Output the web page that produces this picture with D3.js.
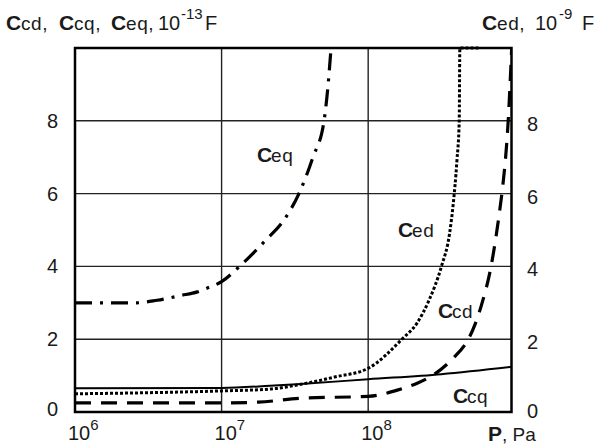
<!DOCTYPE html>
<html>
<head>
<meta charset="utf-8">
<script src="https://cdn.jsdelivr.net/npm/d3@7"></script>
<style>
  body { margin: 0; background: #fff; }
  text { font-family: "Liberation Sans", Arial, sans-serif; fill: #1a1a1a; }
</style>
</head>
<body>
<svg width="599" height="445"></svg>
<script>
// pressure P (Pa) and capacitances
const ceqP = [1e6, 2.63e6, 3.63e6, 5.25e6, 6.84e6, 7.94e6, 1e7, 1.31e7, 2.0e7, 2.66e7, 3.37e7, 4.2e7, 5.0e7, 5.41e7, 5.58e7];
const ceqV = [3.0, 3.0, 3.07, 3.2, 3.3, 3.4, 3.58, 3.98, 4.72, 5.27, 6.0, 7.0, 8.0, 9.3, 10];

const cedP = [1e6, 1e7, 2.14e7, 3.47e7, 5.89e7, 1e8, 1.7e8, 2.16e8, 2.6e8, 3.16e8, 3.59e8, 3.8e8, 4.03e8, 4.18e8, 4.22e8, 5.66e8];
const cedV = [0.5, 0.58, 0.63, 0.76, 0.96, 1.2, 2.0, 2.45, 3.07, 4.0, 4.9, 5.7, 6.9, 8.0, 10, 10];

const ccdP = [1e6, 1e7, 1.78e7, 3.47e7, 1e8, 1.58e8, 2.16e8, 2.79e8, 3.89e8, 4.57e8, 4.82e8, 5.35e8, 5.94e8, 6.89e8, 7.93e8, 8.28e8, 9.02e8, 9.53e8];
const ccdV = [0.25, 0.25, 0.27, 0.38, 0.43, 0.6, 0.79, 1.02, 1.52, 1.85, 2.0, 2.4, 2.95, 4.0, 5.6, 6.2, 8.0, 10];

const ccqP = [1e6, 1e7, 2.14e7, 3.47e7, 1e8, 3.16e8, 9.5e8];
const ccqV = [0.65, 0.66, 0.72, 0.77, 0.9, 1.04, 1.24];

const xTicks = [1e6, 1e7, 1e8];
const xTickExp = ['6', '7', '8'];
const yTicks = [0, 2, 4, 6, 8];

const svg = d3.select('svg');
const pLeft = 75, pRight = 511.5, pTop = 48, pBottom = 412;

const x = d3.scaleLog().domain([1e6, 9.5e8]).range([pLeft, pRight]);
const y = d3.scaleLinear().domain([0, 10]).range([pBottom, pTop]);

svg.append('clipPath').attr('id', 'plot')
  .append('rect').attr('x', pLeft).attr('y', pTop - 3)
  .attr('width', pRight - pLeft).attr('height', pBottom - pTop + 3);

// grid
const grid = svg.append('g').attr('stroke', '#222').attr('stroke-width', 1.4);
grid.selectAll('.h').data(yTicks.filter(d => d > 0)).enter().append('line')
  .attr('x1', pLeft).attr('x2', pRight)
  .attr('y1', d => y(d)).attr('y2', d => y(d));
grid.selectAll('.v').data(xTicks.slice(1)).enter().append('line')
  .attr('y1', pTop).attr('y2', pBottom)
  .attr('x1', d => x(d)).attr('x2', d => x(d));

// curves
const line = d3.line()
  .x(d => x(d[0])).y(d => y(d[1]))
  .curve(d3.curveMonotoneX);
const zip = (a, b) => a.map((v, i) => [v, b[i]]);

const curves = svg.append('g').attr('clip-path', 'url(#plot)')
  .attr('fill', 'none').attr('stroke', '#000');

curves.append('path').attr('d', line(zip(ccqP, ccqV)))
  .attr('stroke-width', 2);
curves.append('path').attr('d', line(zip(ccdP, ccdV)))
  .attr('stroke-width', 3.2).attr('stroke-dasharray', '16,10');
curves.append('path').attr('d', line(zip(cedP, cedV)))
  .attr('stroke-width', 3).attr('stroke-dasharray', '3,2');
curves.append('path').attr('d', line(zip(ceqP, ceqV)))
  .attr('stroke-width', 3.2).attr('stroke-dasharray', '17,8,3,8');

// frame
svg.append('rect')
  .attr('x', pLeft).attr('y', pTop)
  .attr('width', pRight - pLeft).attr('height', pBottom - pTop)
  .attr('fill', 'none').attr('stroke', '#000').attr('stroke-width', 2.5);

// y tick labels on both sides
svg.selectAll('.yl').data(yTicks).enter().append('text')
  .attr('x', 58).attr('y', d => y(d) + (d === 0 ? -3 : 0))
  .attr('text-anchor', 'end').attr('dominant-baseline', 'central')
  .attr('font-size', 20).text(d => d);
svg.selectAll('.yr').data(yTicks).enter().append('text')
  .attr('x', 527).attr('y', d => y(d) + (d === 0 ? -1 : 3))
  .attr('dominant-baseline', 'central')
  .attr('font-size', 20).text(d => d);

// x tick labels 10^n
const xl = svg.selectAll('.xl').data(xTicks).enter().append('text')
  .attr('x', d => x(d) - 7).attr('y', 440).attr('font-size', 20);
xl.append('tspan').text('10');
xl.append('tspan').attr('font-size', 15).attr('dy', -10).text((d, i) => xTickExp[i]);

// bold C followed by a plain subscript on the same baseline
function capLabel(xp, yp, sub, gap) {
  svg.append('text').attr('x', xp).attr('y', yp)
    .attr('font-weight', 'bold').attr('font-size', 21).text('C');
  svg.append('text').attr('x', xp + gap).attr('y', yp)
    .attr('font-size', 19).attr('letter-spacing', 0.6).text(sub);
}
function plain(xp, yp, s, size) {
  svg.append('text').attr('x', xp).attr('y', yp).attr('font-size', size).text(s);
}

// left axis title
capLabel(6, 30, 'cd,', 15);
capLabel(59, 30, 'cq,', 15);
capLabel(111, 30, 'eq,', 15);
plain(158, 30, '10', 20);
plain(181, 19, '-13', 15);
plain(205, 30, 'F', 20);

// right axis title
capLabel(482, 30, 'ed,', 15);
plain(535, 30, '10', 20);
plain(559, 19, '-9', 15);
plain(582, 30, 'F', 20);

// x axis title
svg.append('text').attr('x', 488).attr('y', 441)
  .attr('font-weight', 'bold').attr('font-size', 21).text('P');
plain(502, 441, ', Pa', 19);

// curve labels
capLabel(257, 162, 'eq', 14);
capLabel(398, 237, 'ed', 14);
capLabel(438, 318, 'cd', 14);
capLabel(453, 403, 'cq', 14);
</script>
</body>
</html>
